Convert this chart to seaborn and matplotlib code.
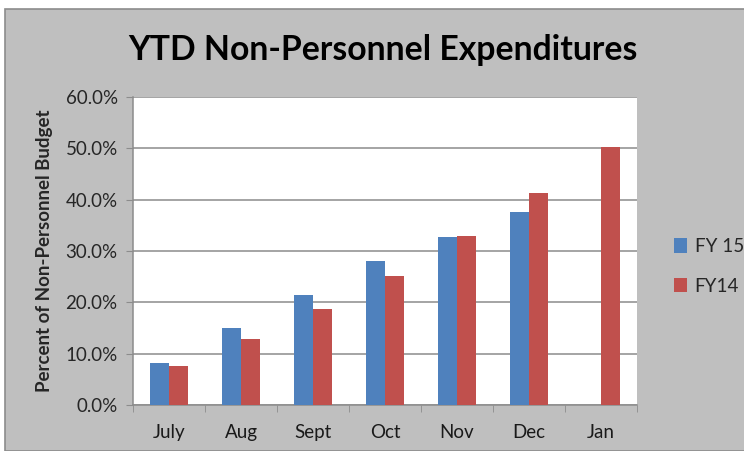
import numpy as np
import pandas as pd
import seaborn as sns
import matplotlib.pyplot as plt
from matplotlib.patches import Rectangle
from matplotlib.ticker import PercentFormatter, FixedLocator

months = ['July', 'Aug', 'Sept', 'Oct', 'Nov', 'Dec', 'Jan']
fy15 = [8.2, 15.0, 21.4, 28.1, 32.7, 37.6, np.nan]
fy14 = [7.6, 12.9, 18.7, 25.1, 32.9, 41.3, 50.3]
series = ['FY 15', 'FY14']
colors = ['#4F81BD', '#C0504D']

df = pd.DataFrame({
    'month': months * 2,
    'series': [series[0]] * len(months) + [series[1]] * len(months),
    'pct': fy15 + fy14,
})

sns.set_style('white')
plt.rcParams['font.family'] = ['Lato', 'DejaVu Sans']

fig = plt.figure(figsize=(7.44, 4.51), dpi=100)
fig.patch.set_facecolor('white')
# gray chart frame, with a thin white margin top and left like the source
fig.patches.append(Rectangle((5 / 744, 0), 1, 1 - 9 / 451, transform=fig.transFigure,
                             facecolor='#bfbfbf', edgecolor='#8c8c8c', lw=1.2, zorder=-10))

ax = fig.add_axes([133 / 744, 46 / 451, 504 / 744, 308 / 451])
sns.barplot(data=df, x='month', y='pct', hue='series', palette=colors,
            width=0.54, errorbar=None, ax=ax, saturation=1, linewidth=0, zorder=3)

ax.set_facecolor('white')
ax.set_xlim(-0.5, len(months) - 0.5)
ax.set_ylim(0, 60)
ax.set_yticks(range(0, 61, 10))
ax.yaxis.set_major_formatter(PercentFormatter(decimals=1))
ax.yaxis.grid(True, color='#8c8c8c', lw=1.1, zorder=0)
ax.set_axisbelow(True)

for s in ['top', 'right']:
    ax.spines[s].set_visible(False)
for s in ['left', 'bottom']:
    ax.spines[s].set_color('#8c8c8c')
    ax.spines[s].set_linewidth(1.1)

ax.tick_params(axis='y', length=5, color='#8c8c8c', labelsize=13.5, pad=6, labelcolor='#262626', left=True)
ax.tick_params(axis='x', which='major', length=0, labelsize=13.5, pad=14, labelcolor='#1a1a1a')
ax.xaxis.set_minor_locator(FixedLocator(np.arange(-0.5, len(months), 1)))
ax.tick_params(axis='x', which='minor', length=5, color='#8c8c8c', bottom=True)

ax.set_xlabel('')
ax.set_ylabel('Percent of Non-Personnel Budget', fontsize=13.5, fontweight='bold', labelpad=9)

fig.text(0.515, 0.89, 'YTD Non-Personnel Expenditures', ha='center', va='center',
         fontsize=24.3, fontweight='bold', color='black')

leg = ax.legend(title=None, loc='center left', bbox_to_anchor=(1.04, 0.45), frameon=False,
                fontsize=13.5, handlelength=0.7, handleheight=0.8, labelspacing=1.2, handletextpad=0.4)

fig.savefig('out.png', dpi=100, facecolor=fig.get_facecolor())
